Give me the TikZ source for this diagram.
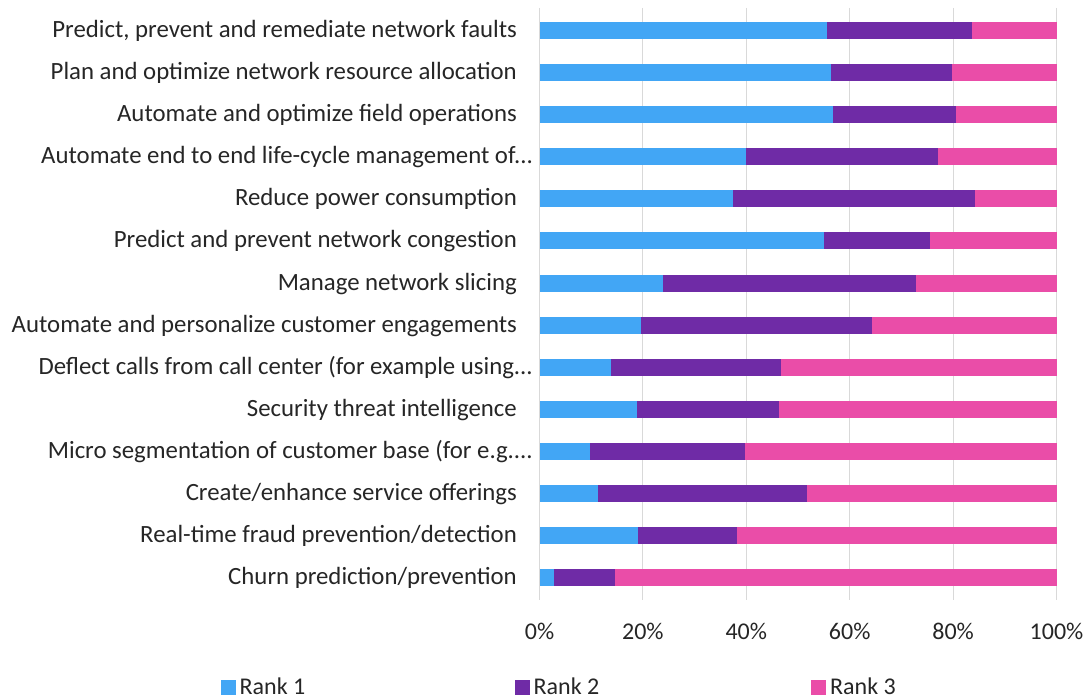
\documentclass[tikz,border=0pt]{standalone}
\usepackage{fontspec}
\setmainfont{Carlito}
\definecolor{rankone}{HTML}{42A6F5}
\definecolor{ranktwo}{HTML}{6F2BA6}
\definecolor{rankthree}{HTML}{EA4DA8}
\definecolor{gridc}{HTML}{D9D9D9}
\definecolor{txtc}{HTML}{262626}
\begin{document}
\begin{tikzpicture}[x=1pt,y=-1pt,
  catlab/.style={anchor=base east, inner sep=0pt, text=txtc, font=\fontsize{24.8}{28}\selectfont},
  ticklab/.style={anchor=base, inner sep=0pt, text=txtc, font=\fontsize{24}{28}\selectfont},
  leglab/.style={anchor=base west, inner sep=0pt, text=txtc, font=\fontsize{24}{28}\selectfont},
  gridline/.style={draw=gridc, line width=1pt},
  barone/.style={fill=rankone},
  bartwo/.style={fill=ranktwo},
  barthree/.style={fill=rankthree}]
\useasboundingbox (0,0) rectangle (1085,700);
\fill[white] (0,0) rectangle (1085,700);
% grid
\foreach \k in {0,...,5} {
  \draw[gridline] ({539.5+103.4*\k},8) -- ({539.5+103.4*\k},600);
  \pgfmathtruncatemacro{\pc}{20*\k}
  \node[ticklab] (tick\k) at ({539.5+103.4*\k},639) {\pc\%};
}
% bars and labels
\foreach \i/\lx/\pa/\pb/\txt in {
  1/517/55.6/83.6/{Predict, prevent and remediate network faults},
  2/517/56.3/79.8/{Plan and optimize network resource allocation},
  3/517/56.8/80.5/{Automate and optimize field operations},
  4/533/39.9/77.0/{Automate end to end life-cycle management of...},
  5/517/37.4/84.3/{Reduce power consumption},
  6/517/55.1/75.6/{Predict and prevent network congestion},
  7/517/23.9/72.9/{Manage network slicing},
  8/517/19.7/64.4/{Automate and personalize customer engagements},
  9/533/13.9/46.7/{Deflect calls from call center (for example using...},
  10/517/18.9/46.3/{Security threat intelligence},
  11/533/9.8/39.8/{Micro segmentation of customer base (for e.g....},
  12/517/11.3/51.8/{Create/enhance service offerings},
  13/517/19.0/38.2/{Real-time fraud prevention/detection},
  14/517/2.8/14.6/{Churn prediction/prevention}} {
  \pgfmathsetmacro{\yc}{30.5+42.1*(\i-1)}
  \fill[barone] (539.5,\yc-8.5) rectangle ({539.5+5.17*\pa},\yc+8.5);
  \fill[bartwo] ({539.5+5.17*\pa},\yc-8.5) rectangle ({539.5+5.17*\pb},\yc+8.5);
  \fill[barthree] ({539.5+5.17*\pb},\yc-8.5) rectangle (1056.5,\yc+8.5);
  \node[catlab] (cat\i) at (\lx,\yc+7) {\txt};
}
% legend
\fill[barone] (221,679.5) rectangle (236,694.5);
\node[leglab] (leg1) at (239.5,694.5) {Rank 1};
\fill[bartwo] (515,679.5) rectangle (530,694.5);
\node[leglab] (leg2) at (533.5,694.5) {Rank 2};
\fill[barthree] (811,679.5) rectangle (826,694.5);
\node[leglab] (leg3) at (830,694.5) {Rank 3};
\end{tikzpicture}
\end{document}
